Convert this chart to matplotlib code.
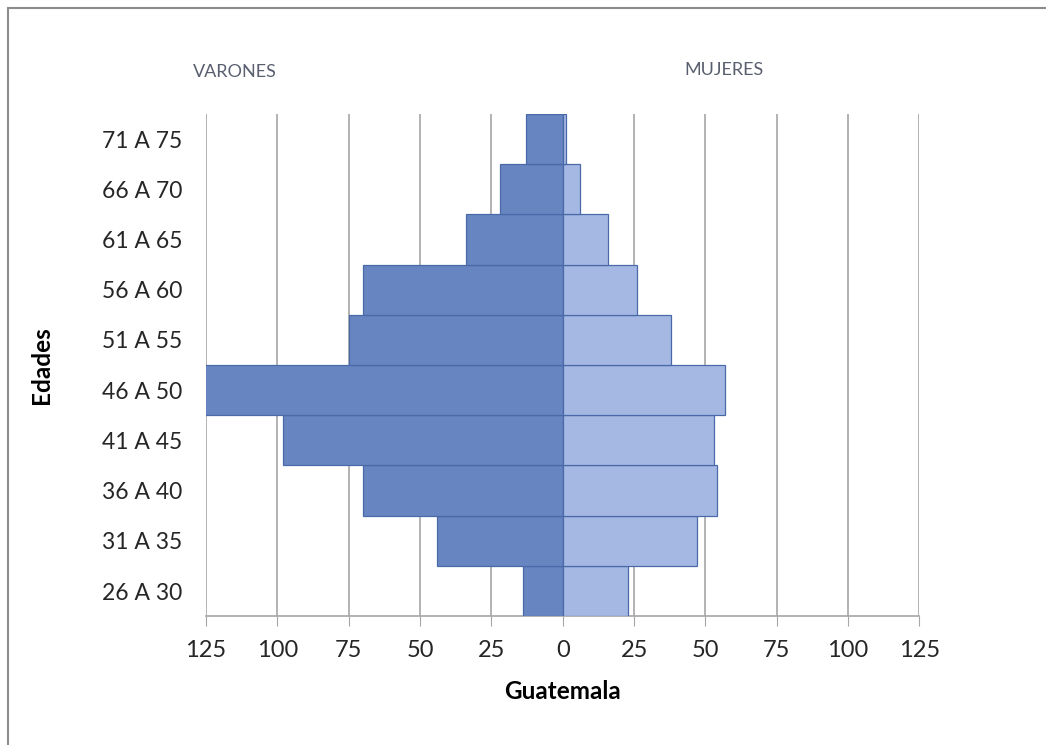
import matplotlib
matplotlib.use("Agg")
import matplotlib.pyplot as plt
import matplotlib.transforms as mtransforms
import numpy as np
from matplotlib.patches import Rectangle

# datos
edades = ['26 A 30', '31 A 35', '36 A 40', '41 A 45', '46 A 50',
          '51 A 55', '56 A 60', '61 A 65', '66 A 70', '71 A 75']
varones = [14, 44, 70, 98, 127, 75, 70, 34, 22, 13]
mujeres = [23, 47, 54, 53, 57, 38, 26, 16, 6, 1]
ticks = [-125, -100, -75, -50, -25, 0, 25, 50, 75, 100, 125]

plt.rcParams['font.family'] = ['Lato', 'DejaVu Sans']

fig = plt.figure(figsize=(10.46, 7.45), dpi=100)
ax = fig.add_axes([0.197, 0.173, 0.682, 0.674])

y = np.arange(len(edades))
ax.barh(y, -np.array(varones), height=1.0, color='#6785C1',
        edgecolor='#4A69A8', linewidth=0.9, zorder=3)
ax.barh(y, mujeres, height=1.0, color='#A5B8E3',
        edgecolor='#4A69A8', linewidth=0.9, zorder=3)

ax.set_xlim(-125, 125)
ax.set_ylim(-0.5, len(edades) - 0.5)
ax.set_xticks(ticks)
ax.set_xticklabels([str(abs(t)) for t in ticks], fontsize=17, color='#262626')
ax.set_yticks(y)
ax.set_yticklabels(edades, fontsize=16.5, color='#262626')
# etiquetas un poco mas abajo, como en el original
shift = mtransforms.ScaledTranslation(0, -3 / 72, fig.dpi_scale_trans)
for lbl in ax.get_yticklabels():
    lbl.set_transform(lbl.get_transform() + shift)
ax.tick_params(axis='y', length=0, pad=17)
ax.tick_params(axis='x', length=7, color='#A6A6A6', pad=10)

ax.grid(axis='x', color='#A6A6A6', linewidth=1.2, zorder=0)
for s in ['left', 'right', 'top']:
    ax.spines[s].set_visible(False)
ax.spines['bottom'].set_color('#A6A6A6')
ax.spines['bottom'].set_linewidth(1.2)

ax.set_xlabel('Guatemala', fontsize=17.5, fontweight='bold', labelpad=14)
ax.set_ylabel('Edades', fontsize=17.5, fontweight='bold', labelpad=35)

fig.text(0.225, 0.903, 'VARONES', fontsize=13, color='#595F6F',
         ha='center', va='center')
fig.text(0.692, 0.906, 'MUJERES', fontsize=13, color='#595F6F',
         ha='center', va='center')

fig.patches.append(Rectangle((0.008, -0.01), 0.995, 0.999,
                             transform=fig.transFigure, fill=False,
                             edgecolor='#8C8C8C', linewidth=1.5))

fig.savefig('out.png', dpi=100)
